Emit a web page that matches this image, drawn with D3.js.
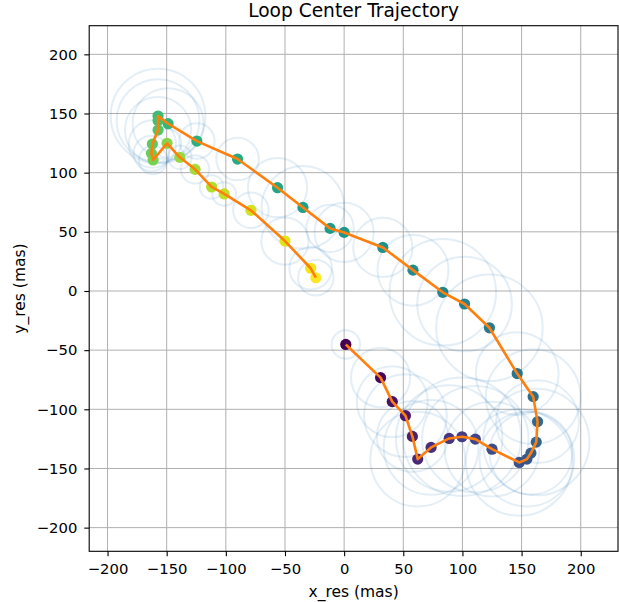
<!DOCTYPE html>
<meta charset="utf-8">
<style>
  body { margin: 0; background: #fff; }
  text { font-family: 'DejaVu Sans', sans-serif; }
</style>
<script src="https://d3js.org/d3.v7.min.js"></script>
<div id="chart"></div>
<script>

// loop centers in time order (mas)
var xRes = [1.4, 30.8, 40.7, 51.8, 57.7, 62.2, 73.5, 88.8, 99.6, 110.9,
            125.0, 148.0, 154.5, 157.9, 162.4, 163.5, 159.8, 146.3, 122.8, 101.8,
            83.4, 58.2, 32.7, 0.0, -11.9, -34.8, -56.3, -90.1, -124.5, -148.8,
            -157.3, -157.3, -157.3, -162.1, -162.9, -161.5, -149.7, -138.9, -126.0, -112.0,
            -101.4, -78.8, -50.0, -28.3, -23.9];
var yRes = [-45.2, -73.2, -93.5, -105.4, -122.9, -142.1, -132.2, -124.6, -123.2, -125.2,
            -133.7, -144.9, -142.1, -137.0, -127.7, -110.4, -89.3, -69.8, -31.1, -11.0,
            -1.1, 17.6, 36.8, 49.5, 52.9, 70.6, 87.3, 111.5, 126.7, 141.4,
            147.9, 144.0, 136.0, 124.2, 116.3, 110.7, 124.8, 113.0, 102.8, 87.9,
            82.0, 68.2, 42.2, 19.2, 11.2];
// loop radii (mas)
var loopR = [12, 25, 30, 35, 30, 40, 40, 45, 50, 45,
             40, 45, 40, 35, 45, 35, 40, 35, 45, 40,
             45, 30, 25, 25, 20, 35, 25, 18, 15, 30,
             40, 35, 28, 20, 15, 12, 12, 10, 12, 10,
             10, 15, 20, 18, 15];
var tickVals = [-200, -150, -100, -50, 0, 50, 100, 150, 200];

var W = 619, H = 602;
var axL = 89.2, axR = 618, axT = 25.7, axB = 551.3;

var svg = d3.select("#chart").append("svg")
    .attr("width", W).attr("height", H);

var x = d3.scaleLinear().domain([-215.5, 231.5]).range([axL, axR]);
var y = d3.scaleLinear().domain([-220, 224.2]).range([axB, axT]);
var k = (axR - axL) / (231.5 + 215.5); // px per mas

var pts = xRes.map(function(d, i) { return {x: d, y: yRes[i], r: loopR[i], i: i}; });
var n = pts.length;

svg.append("clipPath").attr("id", "clip")
  .append("rect").attr("x", axL).attr("y", axT)
    .attr("width", axR - axL).attr("height", axB - axT);

// grid
var grid = svg.append("g");
grid.selectAll(".gx").data(tickVals).enter().append("line")
    .attr("x1", function(d) { return x(d); }).attr("x2", function(d) { return x(d); })
    .attr("y1", axT).attr("y2", axB)
    .attr("stroke", "#b0b0b0").attr("stroke-width", 1);
grid.selectAll(".gy").data(tickVals).enter().append("line")
    .attr("y1", function(d) { return y(d); }).attr("y2", function(d) { return y(d); })
    .attr("x1", axL).attr("x2", axR)
    .attr("stroke", "#b0b0b0").attr("stroke-width", 1);

var plot = svg.append("g").attr("clip-path", "url(#clip)");

// loops
plot.selectAll(".loop").data(pts).enter().append("circle")
    .attr("cx", function(d) { return x(d.x); })
    .attr("cy", function(d) { return y(d.y); })
    .attr("r", function(d) { return d.r * k; })
    .attr("fill", "none")
    .attr("stroke", "#1f77b4")
    .attr("stroke-opacity", 0.12)
    .attr("stroke-width", 2);

// centers
plot.selectAll(".pt").data(pts).enter().append("circle")
    .attr("cx", function(d) { return x(d.x); })
    .attr("cy", function(d) { return y(d.y); })
    .attr("r", 5.6)
    .attr("fill", function(d) { return d3.interpolateViridis(d.i / (n - 1)); });

// trajectory
plot.append("path").datum(pts)
    .attr("d", d3.line().x(function(d) { return x(d.x); }).y(function(d) { return y(d.y); }))
    .attr("fill", "none")
    .attr("stroke", "#ff7f0e")
    .attr("stroke-width", 2.6)
    .attr("stroke-linejoin", "round");

// axes
var fmt = function(d) { return d < 0 ? "\u2212" + Math.abs(d) : d; };
var xAxis = svg.append("g").attr("transform", "translate(0," + axB + ")")
    .call(d3.axisBottom(x).tickValues(tickVals).tickFormat(fmt).tickSize(4.9).tickPadding(7.5));
var yAxis = svg.append("g").attr("transform", "translate(" + axL + ",0)")
    .call(d3.axisLeft(y).tickValues(tickVals).tickFormat(fmt).tickSize(4.9).tickPadding(7));
[xAxis, yAxis].forEach(function(a) {
  a.select(".domain").remove();
  a.selectAll("line").attr("stroke", "#000").attr("stroke-width", 1.1);
  a.selectAll("text").style("font-size", "14.8px").attr("fill", "#000")
    .style("font-family", "'DejaVu Sans', sans-serif");
});

// frame
svg.append("rect").attr("x", axL).attr("y", axT)
    .attr("width", axR - axL).attr("height", axB - axT)
    .attr("fill", "none").attr("stroke", "#000").attr("stroke-width", 1.1);

svg.append("text")
    .attr("x", (axL + axR) / 2).attr("y", 16.8)
    .attr("text-anchor", "middle")
    .style("font-size", "18.6px")
    .text("Loop Center Trajectory");

svg.append("text")
    .attr("x", (axL + axR) / 2).attr("y", 596.7)
    .attr("text-anchor", "middle")
    .style("font-size", "15.5px")
    .text("x_res (mas)");

svg.append("text")
    .attr("transform", "translate(24.5," + ((axT + axB) / 2) + ") rotate(-90)")
    .attr("text-anchor", "middle")
    .style("font-size", "15.5px")
    .text("y_res (mas)");

</script>
